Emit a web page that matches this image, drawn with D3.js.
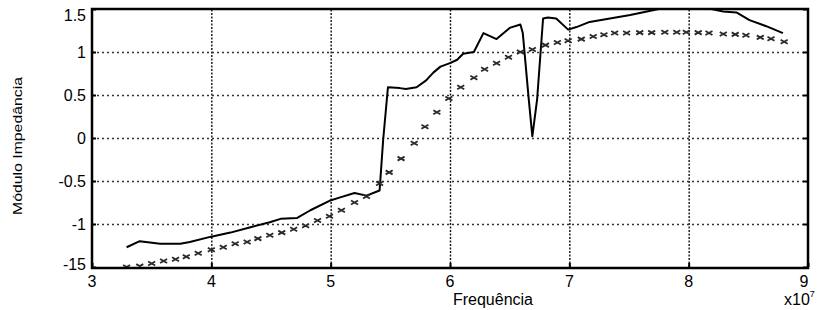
<!DOCTYPE html>
<html>
<head>
<meta charset="utf-8">
<script src="https://cdn.jsdelivr.net/npm/d3@7"></script>
<style>
  body { margin: 0; background: #fff; }
  svg { font-family: "Liberation Sans", Arial, sans-serif; }
</style>
</head>
<body>
<svg id="chart"></svg>
<script>
var width = 821;
var height = 310;

// solid curve (frequency in units of 1e7)
var lineFreq = [3.29, 3.40, 3.57, 3.74, 3.82, 3.99, 4.16, 4.32, 4.49, 4.58, 4.72, 4.83, 4.99, 5.08, 5.20, 5.30, 5.41,
  5.44, 5.48, 5.58, 5.63, 5.72, 5.80, 5.86, 5.92, 6.00, 6.06, 6.11, 6.20, 6.28, 6.39, 6.50, 6.59, 6.61, 6.66, 6.69,
  6.73, 6.78, 6.82, 6.89, 6.99, 7.06, 7.17, 7.34, 7.51, 7.65, 7.79, 7.95, 8.15, 8.29, 8.40, 8.51, 8.65, 8.79];
var lineVals = [-1.27, -1.20, -1.23, -1.23, -1.21, -1.15, -1.10, -1.04, -0.98, -0.94, -0.93, -0.84, -0.73, -0.69, -0.64, -0.67, -0.61,
  -0.02, 0.59, 0.58, 0.57, 0.59, 0.67, 0.76, 0.83, 0.87, 0.91, 0.98, 1.00, 1.22, 1.15, 1.28, 1.32, 1.22, 0.45, 0.02,
  0.45, 1.39, 1.40, 1.39, 1.26, 1.29, 1.35, 1.39, 1.43, 1.47, 1.51, 1.53, 1.51, 1.47, 1.46, 1.37, 1.30, 1.22];

// x markers
var markFreq = [3.29, 3.40, 3.50, 3.60, 3.70, 3.79, 3.89, 4.00, 4.10, 4.20, 4.30, 4.39, 4.49, 4.59, 4.69, 4.79, 4.89,
  4.99, 5.09, 5.20, 5.30, 5.41, 5.49, 5.59, 5.70, 5.79, 5.89, 5.99, 6.09, 6.20, 6.29, 6.39, 6.49, 6.59, 6.69, 6.80,
  6.90, 6.99, 7.10, 7.20, 7.29, 7.38, 7.48, 7.59, 7.69, 7.80, 7.90, 7.98, 8.08, 8.17, 8.29, 8.39, 8.48, 8.60, 8.69, 8.80];
var markVals = [-1.50, -1.49, -1.46, -1.43, -1.41, -1.38, -1.34, -1.30, -1.27, -1.23, -1.21, -1.17, -1.13, -1.10, -1.06, -1.02, -0.96,
  -0.91, -0.84, -0.75, -0.68, -0.53, -0.40, -0.24, -0.06, 0.13, 0.30, 0.46, 0.59, 0.70, 0.80, 0.87, 0.94, 1.00, 1.03, 1.08,
  1.11, 1.13, 1.15, 1.18, 1.20, 1.22, 1.22, 1.225, 1.225, 1.23, 1.23, 1.23, 1.225, 1.22, 1.21, 1.205, 1.195, 1.17, 1.155, 1.12];

var xTicks = [3, 4, 5, 6, 7, 8, 9];
var yTicks = [-1.5, -1, -0.5, 0, 0.5, 1, 1.5];
var yTickLabels = ["-15", "-1", "-0.5", "0", "0.5", "1", "1.5"];

var plotLeft = 92, plotRight = 808, plotTop = 9, plotBottom = 267;

var svg = d3.select("#chart")
  .attr("width", width)
  .attr("height", height);

var xScale = d3.scaleLinear().domain([3, 9]).range([plotLeft, plotRight]);
var yScale = d3.scaleLinear().domain([-1.5, 1.5]).range([plotBottom, plotTop]);

svg.append("clipPath").attr("id", "clip")
  .append("rect")
  .attr("x", plotLeft).attr("y", plotTop)
  .attr("width", plotRight - plotLeft).attr("height", plotBottom - plotTop);

// grid lines
svg.append("g")
  .attr("transform", "translate(0," + plotBottom + ")")
  .call(d3.axisBottom(xScale).tickValues(xTicks.slice(1, -1)).tickSize(-(plotBottom - plotTop)).tickFormat(""))
  .call(function(g) {
    g.select(".domain").remove();
    g.selectAll("line")
      .attr("stroke", "#111")
      .attr("stroke-width", 1.4)
      .attr("stroke-dasharray", "2,1.5");
  });

svg.append("g")
  .attr("transform", "translate(" + plotLeft + ",0)")
  .call(d3.axisLeft(yScale).tickValues(yTicks.slice(1, -1)).tickSize(-(plotRight - plotLeft)).tickFormat(""))
  .call(function(g) {
    g.select(".domain").remove();
    g.selectAll("line")
      .attr("stroke", "#333")
      .attr("stroke-width", 1.4)
      .attr("stroke-dasharray", "2,3");
  });

// curves
var lineData = lineFreq.map(function(f, i) { return { f: f, v: lineVals[i] }; });
var markData = markFreq.map(function(f, i) { return { f: f, v: markVals[i] }; });

svg.append("path")
  .datum(lineData)
  .attr("clip-path", "url(#clip)")
  .attr("fill", "none")
  .attr("stroke", "#000")
  .attr("stroke-width", 2)
  .attr("stroke-linejoin", "round")
  .attr("d", d3.line()
    .x(function(d) { return xScale(d.f); })
    .y(function(d) { return yScale(d.v); }));

svg.append("g")
  .attr("clip-path", "url(#clip)")
  .selectAll("path.mark")
  .data(markData)
  .enter()
  .append("path")
  .attr("class", "mark")
  .attr("transform", function(d) {
    return "translate(" + xScale(d.f) + "," + yScale(d.v) + ")";
  })
  .attr("d", "M-3.5,-2L3.5,2M-3.5,2L3.5,-2")
  .attr("fill", "none")
  .attr("stroke", "#2a2a2a")
  .attr("stroke-width", 1.8);

// axes box with inward ticks
svg.append("g")
  .attr("transform", "translate(0," + plotBottom + ")")
  .call(d3.axisTop(xScale).tickValues(xTicks).tickSize(4).tickFormat(""))
  .call(function(g) {
    g.select(".domain").remove();
    g.selectAll("line").attr("stroke", "#000").attr("stroke-width", 2);
  });
svg.append("g")
  .attr("transform", "translate(" + plotRight + ",0)")
  .call(d3.axisLeft(yScale).tickValues(yTicks).tickSize(5).tickFormat(""))
  .call(function(g) {
    g.select(".domain").remove();
    g.selectAll("line").attr("stroke", "#000").attr("stroke-width", 2);
  });
svg.append("g")
  .attr("transform", "translate(" + plotLeft + ",0)")
  .call(d3.axisRight(yScale).tickValues(yTicks).tickSize(4).tickFormat(""))
  .call(function(g) {
    g.select(".domain").remove();
    g.selectAll("line").attr("stroke", "#000").attr("stroke-width", 2);
  });

svg.append("rect")
  .attr("x", plotLeft).attr("y", plotTop)
  .attr("width", plotRight - plotLeft).attr("height", plotBottom - plotTop + 1)
  .attr("fill", "none")
  .attr("stroke", "#000")
  .attr("stroke-width", 2.5);

// tick labels
svg.append("g")
  .selectAll("text")
  .data(xTicks)
  .enter()
  .append("text")
  .attr("x", function(d) { return d == 9 ? xScale(d) - 4 : xScale(d); })
  .attr("y", 287)
  .attr("text-anchor", "middle")
  .attr("font-size", 16)
  .text(function(d) { return d; });

svg.append("g")
  .selectAll("text")
  .data(yTicks)
  .enter()
  .append("text")
  .attr("x", 86)
  .attr("y", function(d, i) {
    var y = yScale(d);
    if (d == 1.5) y = 15;
    if (d == -1.5) y = 264;
    return y;
  })
  .attr("dy", "0.36em")
  .attr("text-anchor", "end")
  .attr("font-size", 16)
  .text(function(d, i) { return yTickLabels[i]; });

// axis titles
svg.append("text")
  .attr("x", 493)
  .attr("y", 305)
  .attr("text-anchor", "middle")
  .attr("font-size", 16)
  .text("Frequência");

svg.append("text")
  .attr("transform", "translate(22,146) rotate(-90)")
  .attr("text-anchor", "middle")
  .attr("font-size", 13)
  .attr("textLength", 138)
  .attr("lengthAdjust", "spacingAndGlyphs")
  .text("Módulo Impedância");

var expo = svg.append("text")
  .attr("x", 784)
  .attr("y", 305)
  .attr("font-size", 16);
expo.append("tspan").text("x10");
expo.append("tspan").attr("font-size", 9).attr("dy", -8).text("7");
</script>
</body>
</html>
